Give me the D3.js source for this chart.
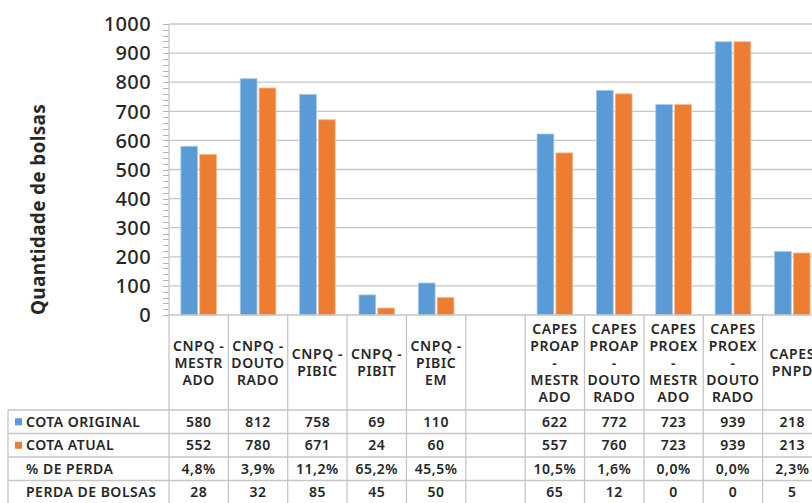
<!DOCTYPE html>
<html>
<head>
<meta charset="utf-8">
<script src="https://cdn.jsdelivr.net/npm/d3@7"></script>
<style>
  html, body { margin: 0; padding: 0; background: #fff; overflow: hidden; }
  svg { display: block; font-family: "Noto Sans", "DejaVu Sans", sans-serif; }
</style>
</head>
<body>
<script>
// categories (blank column kept as an empty category, like the source sheet)
const categories = [
  "CNPQ -\nMESTR\nADO",
  "CNPQ -\nDOUTO\nRADO",
  "CNPQ -\nPIBIC",
  "CNPQ -\nPIBIT",
  "CNPQ -\nPIBIC\nEM",
  "",
  "CAPES\nPROAP\n-\nMESTR\nADO",
  "CAPES\nPROAP\n-\nDOUTO\nRADO",
  "CAPES\nPROEX\n-\nMESTR\nADO",
  "CAPES\nPROEX\n-\nDOUTO\nRADO",
  "CAPES\nPNPD",
];
const cotaOriginal = [580, 812, 758, 69, 110, null, 622, 772, 723, 939, 218];
const cotaAtual = [552, 780, 671, 24, 60, null, 557, 760, 723, 939, 213];
const pctPerda = ["4,8%", "3,9%", "11,2%", "65,2%", "45,5%", "", "10,5%", "1,6%", "0,0%", "0,0%", "2,3%"];
const perdaBolsas = ["28", "32", "85", "45", "50", "", "65", "12", "0", "0", "5"];
const yTicks = [0, 100, 200, 300, 400, 500, 600, 700, 800, 900, 1000];

const seriesNames = ["COTA ORIGINAL", "COTA ATUAL"];
const colors = ["#5b9bd5", "#ed7d31"];

const width = 812;
const height = 503;
const plotLeft = 169;
const plotRight = 822; // the sheet runs past the right edge of the picture
const plotTop = 24;
const plotBottom = 315;
const headerBottom = 410;
const rowEdges = [410, 433.5, 457, 480.5, 504];
const tableLeft = 8;
const gridColor = "#c6c6c6";
const textColor = "#262626";

const svg = d3
  .select("body")
  .append("svg")
  .attr("width", width)
  .attr("height", height)
  .attr("viewBox", [0, 0, width, height]);

const idx = d3.range(categories.length);

const x = d3.scaleBand().domain(idx).range([plotLeft, plotRight]).padding(0);
const inner = d3
  .scaleBand()
  .domain([0, 1])
  .range([x.bandwidth() * 0.2, x.bandwidth() * 0.8])
  .paddingInner(0.11);

const y = d3.scaleLinear().domain([0, 1000]).range([plotBottom, plotTop]);

// gridlines
svg
  .append("g")
  .attr("stroke", gridColor)
  .attr("stroke-width", 1.3)
  .selectAll("line")
  .data(yTicks.filter((d) => d > 0))
  .join("line")
  .attr("x1", plotLeft)
  .attr("x2", width)
  .attr("y1", (d) => y(d))
  .attr("y2", (d) => y(d));

// minor ticks, every 20 units
svg
  .append("g")
  .attr("stroke", "#b5b5b5")
  .attr("stroke-width", 1)
  .selectAll("line")
  .data(d3.range(0, 1001, 20))
  .join("line")
  .attr("x1", plotLeft - 6)
  .attr("x2", plotLeft)
  .attr("y1", (d) => Math.round(y(d)) + 0.5)
  .attr("y2", (d) => Math.round(y(d)) + 0.5);

// bars
const groups = svg
  .append("g")
  .selectAll("g")
  .data(idx.filter((i) => cotaOriginal[i] !== null))
  .join("g")
  .attr("transform", (i) => `translate(${x(i)},0)`);

groups
  .selectAll("rect")
  .data((i) => [cotaOriginal[i], cotaAtual[i]])
  .join("rect")
  .attr("x", (_, s) => inner(s))
  .attr("width", inner.bandwidth())
  .attr("y", (d) => y(d))
  .attr("height", (d) => y(0) - y(d))
  .attr("fill", (_, s) => colors[s])
  .attr("stroke", (_, s) => (s === 0 ? "#a9cbeb" : "#f5b88f"))
  .attr("stroke-width", 0.8);

// y axis labels
svg
  .append("g")
  .attr("font-size", 20)
  .attr("font-weight", 500)
  .attr("fill", textColor)
  .attr("text-anchor", "end")
  .selectAll("text")
  .data(yTicks)
  .join("text")
  .attr("x", 151)
  .attr("y", (d) => y(d))
  .attr("dy", "0.36em")
  .attr("letter-spacing", 0.4)
  .text((d) => d);

svg
  .append("text")
  .attr("transform", `translate(45,${(98 + 321) / 2}) rotate(-90)`)
  .attr("text-anchor", "middle")
  .attr("font-size", 19)
  .attr("font-weight", 700)
  .attr("letter-spacing", 0.3)
  .attr("fill", textColor)
  .text("Quantidade de bolsas");

// data table
const table = svg.append("g").attr("stroke", gridColor).attr("stroke-width", 1.3);

table
  .append("line")
  .attr("x1", plotLeft)
  .attr("x2", width)
  .attr("y1", plotBottom)
  .attr("y2", plotBottom);

table
  .selectAll("line.row")
  .data(rowEdges)
  .join("line")
  .attr("class", "row")
  .attr("x1", tableLeft)
  .attr("x2", width)
  .attr("y1", (d) => d)
  .attr("y2", (d) => d);

table
  .selectAll("line.col")
  .data(idx.concat([categories.length]))
  .join("line")
  .attr("class", "col")
  .attr("x1", (i) => (i < categories.length ? x(i) : plotRight))
  .attr("x2", (i) => (i < categories.length ? x(i) : plotRight))
  .attr("y1", (i) => (i === 0 ? plotTop : plotBottom))
  .attr("y2", height);

table
  .append("line")
  .attr("x1", tableLeft)
  .attr("x2", tableLeft)
  .attr("y1", headerBottom)
  .attr("y2", height);

// category headers
const lineH = 17;
const headerMid = (plotBottom + headerBottom) / 2;
svg
  .append("g")
  .attr("font-size", 14)
  .attr("font-weight", 600)
  .attr("letter-spacing", 0.6)
  .attr("fill", textColor)
  .attr("text-anchor", "middle")
  .selectAll("text")
  .data(idx)
  .join("text")
  .attr("x", (i) => x(i) + x.bandwidth() / 2)
  .each(function (i) {
    const lines = categories[i] ? categories[i].split("\n") : [];
    d3.select(this)
      .selectAll("tspan")
      .data(lines)
      .join("tspan")
      .attr("x", x(i) + x.bandwidth() / 2)
      .attr("y", (_, k) => headerMid + (k - (lines.length - 1) / 2) * lineH)
      .attr("dy", "0.36em")
      .text((d) => d);
  });

// table rows
const rows = [
  { name: seriesNames[0], key: colors[0], cells: cotaOriginal.map((d) => (d === null ? "" : d)) },
  { name: seriesNames[1], key: colors[1], cells: cotaAtual.map((d) => (d === null ? "" : d)) },
  { name: "% DE PERDA", key: null, cells: pctPerda },
  { name: "PERDA DE BOLSAS", key: null, cells: perdaBolsas },
];

const row = svg
  .append("g")
  .attr("font-size", 14)
  .attr("font-weight", 600)
  .attr("letter-spacing", 0.5)
  .attr("fill", textColor)
  .selectAll("g")
  .data(rows)
  .join("g")
  .attr("transform", (_, r) => `translate(0,${(rowEdges[r] + rowEdges[r + 1]) / 2})`);

row
  .filter((d) => d.key)
  .append("rect")
  .attr("x", 15)
  .attr("y", -3.5)
  .attr("width", 7)
  .attr("height", 7)
  .attr("fill", (d) => d.key);

row
  .append("text")
  .attr("x", 26)
  .attr("dy", "0.36em")
  .text((d) => d.name);

row
  .selectAll("text.cell")
  .data((d) => d.cells)
  .join("text")
  .attr("class", "cell")
  .attr("x", (_, i) => x(i) + x.bandwidth() / 2)
  .attr("dy", "0.36em")
  .attr("text-anchor", "middle")
  .text((d) => d);
</script>
</body>
</html>
